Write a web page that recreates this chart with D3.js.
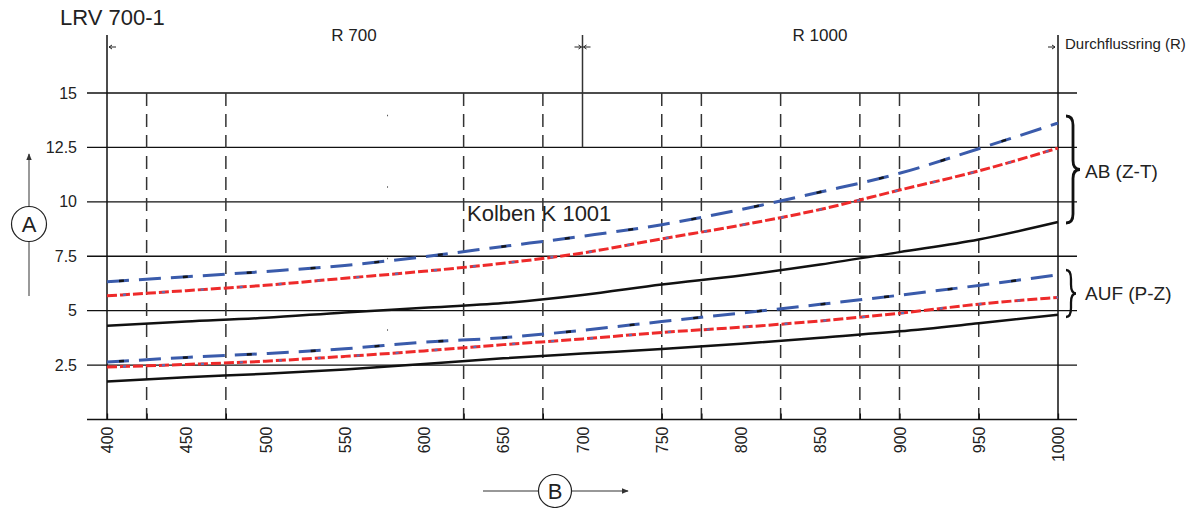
<!DOCTYPE html>
<html>
<head>
<meta charset="utf-8">
<script src="https://cdn.jsdelivr.net/npm/d3@7"></script>
<style>
  body { margin: 0; background: #fff; }
  text { font-family: Arial, "Liberation Sans", Helvetica, sans-serif; fill: #222; }
</style>
</head>
<body>
<div id="chart"></div>
<script>
(function() {

  // --- data ---
  var hub = [400, 450, 500, 550, 600, 650, 700, 750, 800, 850, 900, 950, 1000];

  // AB (Z-T)
  var abBlue  = [6.33, 6.56, 6.80, 7.08, 7.48, 7.95, 8.42, 8.95, 9.65, 10.45, 11.31, 12.44, 13.62];
  var abRed   = [5.68, 5.92, 6.17, 6.49, 6.81, 7.18, 7.65, 8.30, 8.93, 9.65, 10.54, 11.42, 12.47];
  var abBlack = [4.31, 4.50, 4.67, 4.92, 5.13, 5.35, 5.72, 6.20, 6.62, 7.12, 7.69, 8.27, 9.07];

  // AUF (P-Z)
  var aufBlue  = [2.64, 2.85, 3.03, 3.25, 3.55, 3.76, 4.10, 4.50, 4.89, 5.29, 5.71, 6.16, 6.65];
  var aufRed   = [2.41, 2.53, 2.68, 2.90, 3.15, 3.44, 3.70, 4.00, 4.24, 4.53, 4.88, 5.30, 5.61];
  var aufBlack = [1.75, 1.94, 2.10, 2.30, 2.55, 2.81, 3.03, 3.24, 3.48, 3.76, 4.05, 4.42, 4.81];

  var xLabels = [400, 450, 500, 550, 600, 650, 700, 750, 800, 850, 900, 950, 1000];
  var xTickMarks = [400, 425, 475, 625, 675, 750, 775, 825, 875, 900, 950, 1000];
  var dashedVerticals = [425, 475, 625, 675, 750, 775, 825, 875, 900, 950];
  var yTicks = [2.5, 5, 7.5, 10, 12.5, 15];

  var width = 1193, height = 508;

  var svg = d3.select("#chart")
    .append("svg")
    .attr("width", width)
    .attr("height", height);

  var x = d3.scaleLinear().domain([400, 1000]).range([107, 1058]);
  var y = d3.scaleLinear().domain([0, 15]).range([419.5, 93]);

  var gridLeft = 87, gridRight = 1077, topY = 35;

  // horizontal grid
  svg.append("g").selectAll("line")
    .data(yTicks)
    .enter().append("line")
    .attr("x1", gridLeft).attr("x2", gridRight)
    .attr("y1", function(d) { return y(d); })
    .attr("y2", function(d) { return y(d); })
    .attr("stroke", "#111").attr("stroke-width", 1.3);

  // y labels
  var yAxis = d3.axisLeft(y).tickValues(yTicks).tickSize(0).tickPadding(0)
    .tickFormat(function(d) { return String(d); });
  var gy = svg.append("g").attr("transform", "translate(77,0)").call(yAxis);
  gy.select(".domain").remove();
  gy.selectAll("text").style("font-size", "16px").attr("fill", "#222");

  // dashed verticals
  svg.append("g").selectAll("line")
    .data(dashedVerticals)
    .enter().append("line")
    .attr("x1", function(d) { return x(d); })
    .attr("x2", function(d) { return x(d); })
    .attr("y1", y(15)).attr("y2", y(0))
    .attr("stroke", "#333").attr("stroke-width", 1.5)
    .attr("stroke-dasharray", "13,8");

  // faint dotted trace at 575
  svg.append("line")
    .attr("x1", x(577)).attr("x2", x(577))
    .attr("y1", y(14)).attr("y2", y(1))
    .attr("stroke", "#555").attr("stroke-width", 1)
    .attr("stroke-dasharray", "1.5,70");

  // solid verticals (ring limits)
  svg.append("g").selectAll("line")
    .data([400, 1000])
    .enter().append("line")
    .attr("x1", function(d) { return x(d); })
    .attr("x2", function(d) { return x(d); })
    .attr("y1", topY).attr("y2", y(0))
    .attr("stroke", "#111").attr("stroke-width", 1.5);

  svg.append("line")
    .attr("x1", x(700)).attr("x2", x(700))
    .attr("y1", topY).attr("y2", y(12.5))
    .attr("stroke", "#333").attr("stroke-width", 1.5);

  // little dimension arrows at the top
  var arrowY = 47;
  function tinyArrow(xTip, dir) {
    svg.append("path")
      .attr("d", "M" + (xTip + dir * 7) + "," + arrowY + "L" + xTip + "," + arrowY +
        "M" + (xTip + dir * 3) + "," + (arrowY - 2) + "L" + xTip + "," + arrowY +
        "L" + (xTip + dir * 3) + "," + (arrowY + 2))
      .attr("fill", "none").attr("stroke", "#222").attr("stroke-width", 1);
  }
  tinyArrow(x(400) + 2, 1);
  tinyArrow(x(700) - 1, -1);
  tinyArrow(x(700) + 1, 1);
  tinyArrow(x(1000) - 3, -1);

  // bottom axis
  svg.append("line")
    .attr("x1", gridLeft).attr("x2", gridRight)
    .attr("y1", y(0)).attr("y2", y(0))
    .attr("stroke", "#111").attr("stroke-width", 1.5);

  var tickAxis = d3.axisBottom(x).tickValues(xTickMarks).tickSize(-6).tickFormat("");
  var gt = svg.append("g").attr("transform", "translate(0," + y(0) + ")").call(tickAxis);
  gt.select(".domain").remove();
  gt.selectAll("line").attr("stroke", "#111").attr("stroke-width", 1.3);

  var labelAxis = d3.axisBottom(x).tickValues(xLabels).tickSize(0).tickFormat(d3.format("d"));
  var gl = svg.append("g").attr("transform", "translate(0," + y(0) + ")").call(labelAxis);
  gl.select(".domain").remove();
  gl.selectAll("text")
    .style("font-size", "16px")
    .attr("fill", "#222")
    .attr("text-anchor", "end")
    .attr("dy", "0.35em")
    .attr("y", 0)
    .attr("transform", "translate(0,7) rotate(-90)");

  // curves
  var line = d3.line()
    .x(function(d) { return x(d[0]); })
    .y(function(d) { return y(d[1]); })
    .curve(d3.curveMonotoneX);

  function pts(vals) { return hub.map(function(h, i) { return [h, vals[i]]; }); }

  function drawBlue(vals) {
    svg.append("path").attr("d", line(pts(vals)))
      .attr("fill", "none").attr("stroke", "#3a5bab").attr("stroke-width", 3)
      .attr("stroke-dasharray", "22,10");
    svg.append("path").attr("d", line(pts(vals)))
      .attr("fill", "none").attr("stroke", "#151515").attr("stroke-width", 2.4)
      .attr("stroke-dasharray", "5,59").attr("stroke-dashoffset", -12);
  }
  function drawRed(vals) {
    svg.append("path").attr("d", line(pts(vals)))
      .attr("fill", "none").attr("stroke", "#ee2a2a").attr("stroke-width", 3)
      .attr("stroke-dasharray", "10,3");
    svg.append("path").attr("d", line(pts(vals)))
      .attr("fill", "none").attr("stroke", "#5a72b8").attr("stroke-width", 2.2)
      .attr("stroke-dasharray", "3,36").attr("stroke-dashoffset", -16);
  }
  function drawBlack(vals) {
    svg.append("path").attr("d", line(pts(vals)))
      .attr("fill", "none").attr("stroke", "#111").attr("stroke-width", 2.5);
  }

  drawBlack(abBlack);
  drawRed(abRed);
  drawBlue(abBlue);
  drawBlack(aufBlack);
  drawRed(aufRed);
  drawBlue(aufBlue);

  // braces
  function brace(bx, y1, y2, w) {
    var ym = (y1 + y2) / 2, q = 9, h = bx + w / 2;
    return "M" + bx + "," + y1 +
      "Q" + h + "," + y1 + " " + h + "," + (y1 + q) +
      "L" + h + "," + (ym - q) +
      "Q" + h + "," + ym + " " + (bx + w) + "," + ym +
      "Q" + h + "," + ym + " " + h + "," + (ym + q) +
      "L" + h + "," + (y2 - q) +
      "Q" + h + "," + y2 + " " + bx + "," + y2;
  }
  svg.append("path").attr("d", brace(1066, 116, 223, 14))
    .attr("fill", "none").attr("stroke", "#111").attr("stroke-width", 2.8);
  svg.append("path").attr("d", brace(1066, 270, 317, 10))
    .attr("fill", "none").attr("stroke", "#111").attr("stroke-width", 2.3);

  svg.append("text").attr("x", 1085).attr("y", 178)
    .style("font-size", "19px").text("AB (Z-T)");
  svg.append("text").attr("x", 1085).attr("y", 300)
    .style("font-size", "19px").text("AUF (P-Z)");

  // texts
  svg.append("text").attr("x", 60).attr("y", 25)
    .style("font-size", "22px").text("LRV 700-1");
  svg.append("text").attr("x", 354).attr("y", 41).attr("text-anchor", "middle")
    .style("font-size", "17px").text("R 700");
  svg.append("text").attr("x", 820).attr("y", 41).attr("text-anchor", "middle")
    .style("font-size", "17px").text("R 1000");
  svg.append("text").attr("x", 1065).attr("y", 49)
    .style("font-size", "15px").text("Durchflussring (R)");
  svg.append("text").attr("x", 467).attr("y", 221)
    .style("font-size", "22px").text("Kolben K 1001");

  // A marker (vertical)
  svg.append("defs").append("marker")
    .attr("id", "arr").attr("viewBox", "0 0 10 10")
    .attr("refX", 9).attr("refY", 5)
    .attr("markerWidth", 6).attr("markerHeight", 6)
    .attr("orient", "auto")
    .append("path").attr("d", "M0,1L10,5L0,9Z").attr("fill", "#333");

  svg.append("line").attr("x1", 29).attr("x2", 29).attr("y1", 296).attr("y2", 154)
    .attr("stroke", "#555").attr("stroke-width", 1.2).attr("marker-end", "url(#arr)");
  svg.append("circle").attr("cx", 29).attr("cy", 224).attr("r", 17.5)
    .attr("fill", "#fff").attr("stroke", "#222").attr("stroke-width", 1.2);
  svg.append("text").attr("x", 29).attr("y", 232).attr("text-anchor", "middle")
    .style("font-size", "22px").text("A");

  // B marker (horizontal)
  svg.append("line").attr("x1", 483).attr("x2", 628).attr("y1", 491).attr("y2", 491)
    .attr("stroke", "#333").attr("stroke-width", 1.2).attr("marker-end", "url(#arr)");
  svg.append("circle").attr("cx", 555).attr("cy", 491).attr("r", 16.5)
    .attr("fill", "#fff").attr("stroke", "#222").attr("stroke-width", 1.2);
  svg.append("text").attr("x", 555).attr("y", 499).attr("text-anchor", "middle")
    .style("font-size", "22px").text("B");

})();
</script>
</body>
</html>
